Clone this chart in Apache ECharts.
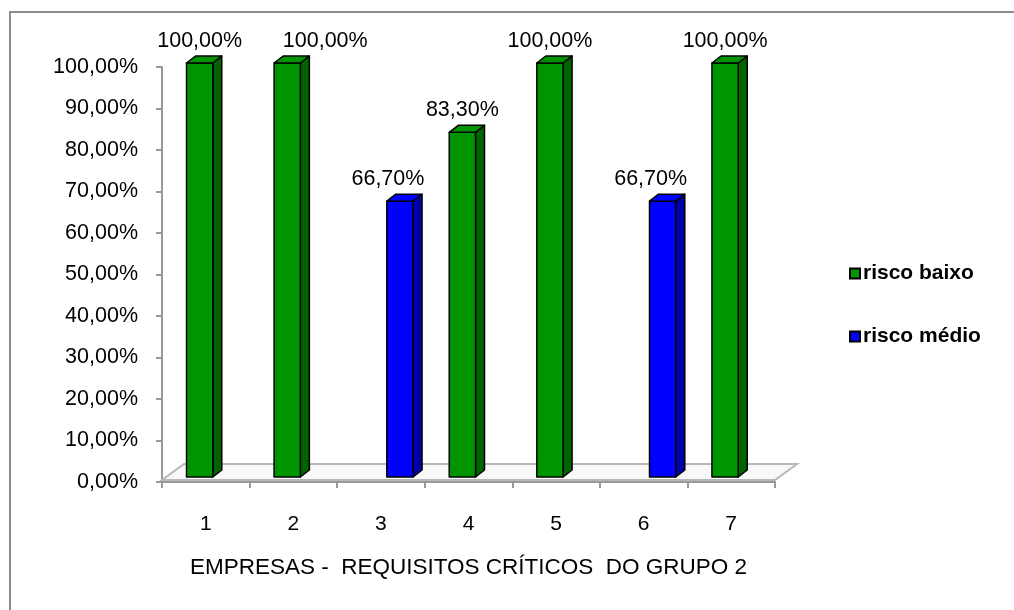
<!DOCTYPE html>
<html>
<head>
<meta charset="utf-8">
<script src="https://cdn.jsdelivr.net/npm/echarts@6/dist/echarts.min.js"></script>
<style>html,body{margin:0;padding:0;background:#fff}#c{width:1014px;height:610px}</style>
</head>
<body>
<div id="c"></div>
<script>
const categories = ['1', '2', '3', '4', '5', '6', '7'];
const riscoBaixo = [100, 100, null, 83.3, 100, null, 100];
const riscoMedio = [null, null, 66.7, null, null, 66.7, null];
const yTicks = [0, 10, 20, 30, 40, 50, 60, 70, 80, 90, 100];

const FONT = '"Liberation Sans", Arial, sans-serif';
const fmt = v => v.toFixed(2).replace('.', ',') + '%';

// layout config (positions only, separate from data)
const labelShiftByCategory = { 1: 38 };

function barRenderer(front, side, slotOffset, labelDx) {
  return function (params, api) {
    const i = api.value(0), v = api.value(1);
    if (v == null || isNaN(v)) return;
    const band = api.size([1, 0])[0];
    const top = api.coord([i, v]);
    const base = api.coord([i, 0]);
    const w = band * 0.30;
    const dx = 9, dy = 7, lift = 4;
    const x0 = top[0] + band * slotOffset - w / 2;
    const yT = top[1] - lift, yB = base[1] - 5;
    const st = { stroke: '#000', lineWidth: 1.5, lineJoin: 'round' };
    const lx = x0 + w / 2 + labelDx + (labelShiftByCategory[i] || 0);
    return {
      type: 'group',
      children: [
        { type: 'polygon', shape: { points: [[x0 + w, yT], [x0 + w + dx, yT - dy], [x0 + w + dx, yB - dy], [x0 + w, yB]] },
          style: Object.assign({ fill: side }, st) },
        { type: 'rect', shape: { x: x0, y: yT, width: w, height: yB - yT },
          style: Object.assign({ fill: front }, st) },
        { type: 'polygon', shape: { points: [[x0, yT], [x0 + dx, yT - dy], [x0 + w + dx, yT - dy], [x0 + w, yT]] },
          style: Object.assign({ fill: front }, st) },
        { type: 'text', x: lx, y: yT - dy - 4,
          style: { text: fmt(v), fill: '#000', font: '21.5px ' + FONT, align: 'center', verticalAlign: 'bottom' } }
      ]
    };
  };
}

function floorRenderer(params, api) {
  const cs = params.coordSys;
  const yF = cs.y + cs.height - 2, dX = 22, dY = 16;
  return {
    type: 'group', silent: true,
    children: [
      { type: 'polygon', shape: { points: [[cs.x, yF], [cs.x + cs.width, yF], [cs.x + cs.width + dX, yF - dY], [cs.x + dX, yF - dY]] },
        style: { fill: '#f8f8f8', stroke: '#b8b8b8', lineWidth: 2 } }
    ]
  };
}

const chart = echarts.init(document.getElementById('c'), null, { renderer: 'canvas' });
chart.setOption({
  animation: false,
  backgroundColor: '#fff',
  graphic: [{ type: 'rect', shape: { x: 10, y: 12, width: 1100, height: 700 }, style: { fill: 'none', stroke: '#8c8c8c', lineWidth: 2 }, z: 100 }],
  grid: { left: 162, right: 239, top: 67, bottom: 128 },
  legend: {
    orient: 'vertical', left: 844, top: 258, itemGap: 42, itemWidth: 10, itemHeight: 10, icon: 'rect',
    textStyle: { fontFamily: FONT, fontSize: 21, fontWeight: 'bold', color: '#000', padding: [0, 0, 0, -2] },
    data: ['risco baixo', 'risco médio']
  },
  xAxis: {
    type: 'category', data: categories, boundaryGap: true,
    axisLine: { lineStyle: { color: '#999', width: 2 } },
    axisTick: { show: true, length: 6, lineStyle: { color: '#999', width: 2 } },
    axisLabel: { color: '#000', fontFamily: FONT, fontSize: 21, margin: 32 },
    name: 'EMPRESAS -  REQUISITOS CRÍTICOS  DO GRUPO 2', nameLocation: 'middle', nameGap: 74,
    nameTextStyle: { color: '#000', fontFamily: FONT, fontSize: 22.5 }
  },
  yAxis: {
    type: 'value', min: yTicks[0], max: yTicks[yTicks.length - 1], interval: 10,
    axisLine: { show: true, lineStyle: { color: '#999', width: 2 } },
    axisTick: { show: true, length: 6, lineStyle: { color: '#999', width: 2 } },
    splitLine: { show: false },
    axisLabel: { color: '#000', fontFamily: FONT, fontSize: 21.5, margin: 24, formatter: v => fmt(v) }
  },
  series: [
    { type: 'custom', name: 'floor', renderItem: floorRenderer, data: [[0, 0]], z: 1, silent: true, legendHoverLink: false },
    { type: 'custom', name: 'risco baixo', renderItem: barRenderer('#009400', '#006400', -0.07, 0),
      itemStyle: { color: '#009400', borderColor: '#000', borderWidth: 1.5 },
      data: riscoBaixo.map((v, i) => [i, v]), encode: { x: 0, y: 1 }, z: 3 },
    { type: 'custom', name: 'risco médio', renderItem: barRenderer('#0000ff', '#0000a8', 0.217, -12),
      itemStyle: { color: '#0000ff', borderColor: '#000', borderWidth: 1.5 },
      data: riscoMedio.map((v, i) => [i, v]), encode: { x: 0, y: 1 }, z: 3 }
  ]
});
</script>
</body>
</html>
